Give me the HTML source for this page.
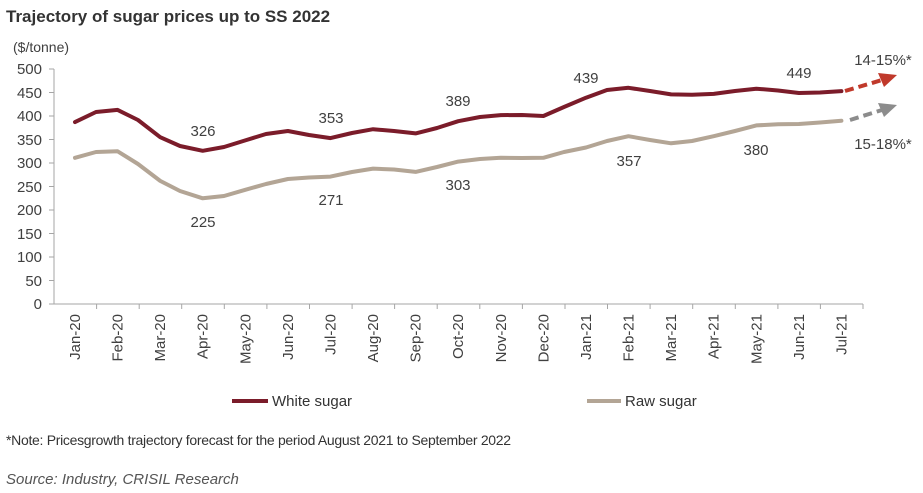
<!DOCTYPE html>
<html><head><meta charset="utf-8"><style>
body{margin:0;background:#fff}
svg{display:block;font-family:"Liberation Sans",sans-serif}
</style></head><body>
<svg width="923" height="493" viewBox="0 0 923 493">
<text x="6" y="22" font-size="17" font-weight="bold" fill="#333">Trajectory of sugar prices up to SS 2022</text>
<text x="13" y="52" font-size="14" fill="#404040">($/tonne)</text>
<g font-size="15" fill="#404040" text-anchor="end">
<text x="42" y="74">500</text><text x="42" y="98">450</text><text x="42" y="121">400</text><text x="42" y="145">350</text><text x="42" y="168">300</text><text x="42" y="192">250</text><text x="42" y="215">200</text><text x="42" y="239">150</text><text x="42" y="262">100</text><text x="42" y="286">50</text><text x="42" y="309">0</text>
</g>
<g stroke="#a6a6a6" stroke-width="1">
<line x1="54" y1="69" x2="54" y2="304"/><line x1="54" y1="304" x2="863" y2="304"/>
<line x1="49" y1="69" x2="54" y2="69"/><line x1="49" y1="92.5" x2="54" y2="92.5"/><line x1="49" y1="116" x2="54" y2="116"/><line x1="49" y1="139.5" x2="54" y2="139.5"/><line x1="49" y1="163" x2="54" y2="163"/><line x1="49" y1="186.5" x2="54" y2="186.5"/><line x1="49" y1="210" x2="54" y2="210"/><line x1="49" y1="233.5" x2="54" y2="233.5"/><line x1="49" y1="257" x2="54" y2="257"/><line x1="49" y1="280.5" x2="54" y2="280.5"/><line x1="49" y1="304" x2="54" y2="304"/>
</g>
<g stroke="#a6a6a6">
<line x1="96.6" y1="304" x2="96.6" y2="309"/><line x1="139.2" y1="304" x2="139.2" y2="309"/><line x1="181.7" y1="304" x2="181.7" y2="309"/><line x1="224.3" y1="304" x2="224.3" y2="309"/><line x1="266.9" y1="304" x2="266.9" y2="309"/><line x1="309.5" y1="304" x2="309.5" y2="309"/><line x1="352.1" y1="304" x2="352.1" y2="309"/><line x1="394.6" y1="304" x2="394.6" y2="309"/><line x1="437.2" y1="304" x2="437.2" y2="309"/><line x1="479.8" y1="304" x2="479.8" y2="309"/><line x1="522.4" y1="304" x2="522.4" y2="309"/><line x1="565" y1="304" x2="565" y2="309"/><line x1="607.5" y1="304" x2="607.5" y2="309"/><line x1="650.1" y1="304" x2="650.1" y2="309"/><line x1="692.7" y1="304" x2="692.7" y2="309"/><line x1="735.3" y1="304" x2="735.3" y2="309"/><line x1="777.9" y1="304" x2="777.9" y2="309"/><line x1="820.4" y1="304" x2="820.4" y2="309"/><line x1="863" y1="304" x2="863" y2="309"/>
</g>
<g font-size="15" fill="#404040" text-anchor="end">
<text transform="translate(80,314) rotate(-90)">Jan-20</text>
<text transform="translate(122.6,314) rotate(-90)">Feb-20</text>
<text transform="translate(165.2,314) rotate(-90)">Mar-20</text>
<text transform="translate(207.7,314) rotate(-90)">Apr-20</text>
<text transform="translate(250.3,314) rotate(-90)">May-20</text>
<text transform="translate(292.9,314) rotate(-90)">Jun-20</text>
<text transform="translate(335.5,314) rotate(-90)">Jul-20</text>
<text transform="translate(378.1,314) rotate(-90)">Aug-20</text>
<text transform="translate(420.6,314) rotate(-90)">Sep-20</text>
<text transform="translate(463.2,314) rotate(-90)">Oct-20</text>
<text transform="translate(505.8,314) rotate(-90)">Nov-20</text>
<text transform="translate(548.4,314) rotate(-90)">Dec-20</text>
<text transform="translate(591,314) rotate(-90)">Jan-21</text>
<text transform="translate(633.5,314) rotate(-90)">Feb-21</text>
<text transform="translate(676.1,314) rotate(-90)">Mar-21</text>
<text transform="translate(718.7,314) rotate(-90)">Apr-21</text>
<text transform="translate(761.3,314) rotate(-90)">May-21</text>
<text transform="translate(803.9,314) rotate(-90)">Jun-21</text>
<text transform="translate(846.4,314) rotate(-90)">Jul-21</text>
</g>
<polyline fill="none" stroke="#7b1c2a" stroke-width="4" stroke-linejoin="round" stroke-linecap="round" points="75,122.1 96,112 117.6,109.9 138,120 160.2,137.2 180,146 202.7,150.8 224,147 245.3,140.4 266,134 287.9,131 309,135 330.5,138.1 352,133 373.1,129.2 394,131 415.6,133.4 437,128 458.2,121.2 480,117 500.8,115.1 522,115 543.4,116 564,107 586,97.7 607,90 628.5,87.8 650,91 671.1,94.4 692,94.8 713.7,93.9 735,91 756.3,88.7 778,90.5 798.9,93 820,92.5 841.4,91.1"/>
<polyline fill="none" stroke="#b3a595" stroke-width="4" stroke-linejoin="round" stroke-linecap="round" points="75,157.8 96,152 117.6,151.3 138,164 160.2,180.9 180,191 202.7,198.3 224,196 245.3,189.8 266,184 287.9,179 309,177.5 330.5,176.6 352,172 373.1,168.6 394,169.5 415.6,171.9 437,167 458.2,161.6 480,159 500.8,157.8 522,158 543.4,157.8 564,152 586,147.5 607,141 628.5,136.2 650,140 671.1,143.3 692,141 713.7,136.2 735,131 756.3,125.4 778,124.3 798.9,124 820,122.5 841.4,120.7"/>
<line x1="845" y1="91" x2="882" y2="80" stroke="#c0392b" stroke-width="4" stroke-dasharray="9,5"/>
<polygon points="897,75 878,73 884,87" fill="#c0392b"/>
<line x1="850" y1="120" x2="882" y2="110" stroke="#8c8c8c" stroke-width="4" stroke-dasharray="9,5"/>
<polygon points="897,105 878,103 884,117" fill="#8c8c8c"/>
<g font-size="15" fill="#404040" text-anchor="middle">
<text x="203" y="136">326</text><text x="331" y="123">353</text><text x="458" y="106">389</text><text x="586" y="83">439</text><text x="799" y="78">449</text>
<text x="203" y="227">225</text><text x="331" y="205">271</text><text x="458" y="190">303</text><text x="629" y="166">357</text><text x="756" y="155">380</text>
<text x="883" y="65">14-15%*</text><text x="883" y="149">15-18%*</text>
</g>
<line x1="232" y1="401" x2="268" y2="401" stroke="#7b1c2a" stroke-width="4"/>
<text x="272" y="406" font-size="15" fill="#333">White sugar</text>
<line x1="587" y1="401" x2="621" y2="401" stroke="#b3a595" stroke-width="4"/>
<text x="625" y="406" font-size="15" fill="#333">Raw sugar</text>
<text x="6" y="445" font-size="14" fill="#333" letter-spacing="-0.3">*Note: Pricesgrowth trajectory forecast for the period August 2021 to September 2022</text>
<text x="6" y="484" font-size="15" font-style="italic" fill="#555">Source: Industry, CRISIL Research</text>
</svg>
</body></html>
